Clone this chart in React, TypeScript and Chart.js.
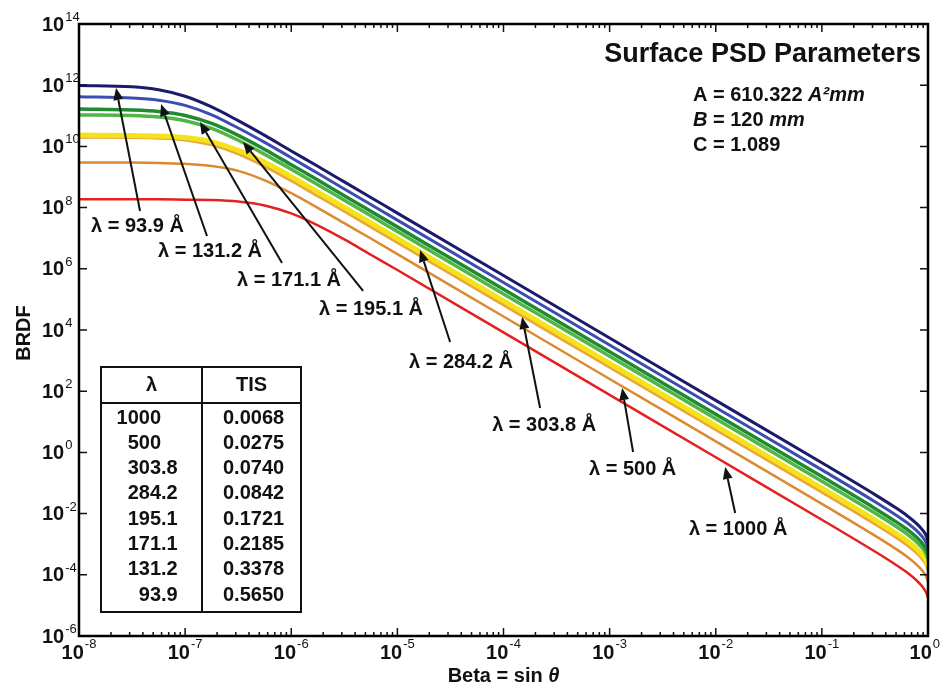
import React, { useEffect, useRef } from "react";
import { Chart, registerables } from "chart.js";

Chart.register(...registerables);

// ---- data (log10 values) ----
const betaExp = [-8, -7.5, -7.25, -7, -6.75, -6.5, -6.25, -6, -5.75, -5.5, -5.25, -5, -4, -3, -2, -1, -0.5, -0.3, -0.2, -0.1, -0.05, -0.02, 0];

const lambdaNames = ["93.9", "131.2", "171.1", "195.1", "284.2", "303.8", "500", "1000"];

const brdfExp939 = [11.99, 11.95, 11.85, 11.64, 11.29, 10.84, 10.36, 9.85, 9.35, 8.84, 8.33, 7.82, 5.78, 3.74, 1.7, -0.34, -1.38, -1.82, -2.06, -2.35, -2.54, -2.7, -2.88];
const brdfExp1312 = [11.62, 11.58, 11.51, 11.34, 11.03, 10.6, 10.13, 9.63, 9.12, 8.61, 8.1, 7.59, 5.55, 3.51, 1.47, -0.57, -1.61, -2.05, -2.29, -2.58, -2.77, -2.93, -3.11];
const brdfExp1711 = [11.22, 11.19, 11.14, 11.01, 10.75, 10.36, 9.9, 9.4, 8.9, 8.39, 7.88, 7.37, 5.33, 3.29, 1.25, -0.79, -1.83, -2.27, -2.51, -2.8, -2.99, -3.15, -3.33];
const brdfExp1951 = [11.03, 11.01, 10.96, 10.84, 10.59, 10.2, 9.74, 9.25, 8.75, 8.24, 7.73, 7.22, 5.18, 3.14, 1.1, -0.94, -1.98, -2.42, -2.66, -2.95, -3.14, -3.3, -3.48];
const brdfExp2842 = [10.37, 10.36, 10.34, 10.29, 10.15, 9.87, 9.48, 9.01, 8.51, 8.01, 7.5, 6.99, 4.95, 2.91, 0.87, -1.17, -2.21, -2.65, -2.89, -3.18, -3.37, -3.53, -3.71];
const brdfExp3038 = [10.3, 10.29, 10.27, 10.21, 10.05, 9.76, 9.35, 8.88, 8.38, 7.88, 7.37, 6.86, 4.82, 2.78, 0.74, -1.3, -2.34, -2.78, -3.02, -3.31, -3.5, -3.66, -3.84];
const brdfExp500 = [9.47, 9.47, 9.46, 9.43, 9.36, 9.2, 8.89, 8.47, 7.99, 7.49, 6.99, 6.48, 4.44, 2.4, 0.36, -1.68, -2.72, -3.16, -3.4, -3.69, -3.88, -4.04, -4.22];
const brdfExp1000 = [8.27, 8.27, 8.27, 8.26, 8.25, 8.2, 8.07, 7.81, 7.42, 6.96, 6.46, 5.96, 3.92, 1.88, -0.16, -2.2, -3.24, -3.68, -3.92, -4.21, -4.4, -4.56, -4.74];

const seriesExps = [brdfExp939, brdfExp1312, brdfExp1711, brdfExp1951, brdfExp2842, brdfExp3038, brdfExp500, brdfExp1000];
const seriesColors = ["#1c1a6a", "#3b4db3", "#1f8a30", "#52b646", "#f5e31a", "#e9a63a", "#dc8a30", "#e42121"];
const seriesWidths = [3, 3, 3.5, 3.5, 5, 3, 2.5, 2.5];

const xTickExps = [-8, -7, -6, -5, -4, -3, -2, -1, 0];
const yTickExps = [-6, -4, -2, 0, 2, 4, 6, 8, 10, 12, 14];

// annotations: label, arrow tip, arrow tail, text centre (log10 beta, log10 BRDF)
const annotLabels = ["λ = 93.9 Å", "λ = 131.2 Å", "λ = 171.1 Å", "λ = 195.1 Å", "λ = 284.2 Å", "λ = 303.8 Å", "λ = 500 Å", "λ = 1000 Å"];
const annotTip = [[-7.651, 11.908], [-7.227, 11.386], [-6.86, 10.8], [-6.454, 10.144], [-4.786, 6.614], [-3.825, 4.425], [-2.882, 2.105], [-1.911, -0.477]];
const annotTail = [[-7.425, 7.889], [-6.794, 7.072], [-6.087, 6.19], [-5.323, 5.275], [-4.503, 3.608], [-3.655, 1.451], [-2.779, 0.013], [-1.817, -1.98]];
const annotText = [[-7.449, 7.399], [-6.765, 6.582], [-6.021, 5.634], [-5.248, 4.686], [-4.4, 2.954], [-3.617, 0.895], [-2.783, -0.542], [-1.789, -2.503]];

const tableLambda = ["1000", "500", "303.8", "284.2", "195.1", "171.1", "131.2", "93.9"];
const tableTIS = ["0.0068", "0.0275", "0.0740", "0.0842", "0.1721", "0.2185", "0.3378", "0.5650"];

const FONT = '"Liberation Sans", Arial, Helvetica, sans-serif';

function drawRuns(ctx: CanvasRenderingContext2D, x: number, y: number, runs: [string, boolean][], size: number) {
  let cx = x;
  for (const [t, it] of runs) {
    ctx.font = `${it ? "italic " : ""}bold ${size}px ${FONT}`;
    ctx.fillText(t, cx, y);
    cx += ctx.measureText(t).width;
  }
}

const overlay = {
  id: "overlay",
  beforeDraw(chart: any) {
    const { ctx, width, height } = chart;
    ctx.save();
    ctx.fillStyle = "#ffffff";
    ctx.fillRect(0, 0, width, height);
    ctx.restore();
  },
  afterDraw(chart: any) {
    const { ctx, chartArea: ca, scales, width } = chart;
    const xs = scales.x;
    const ys = scales.y;
    const px = (e: number) => xs.getPixelForValue(Math.pow(10, e));
    const py = (e: number) => ys.getPixelForValue(Math.pow(10, e));
    ctx.save();

    // ticks
    ctx.strokeStyle = "#111";
    ctx.lineWidth = 1.5;
    ctx.beginPath();
    for (const d of xTickExps) {
      const x = px(d);
      ctx.moveTo(x, ca.bottom); ctx.lineTo(x, ca.bottom - 8);
      ctx.moveTo(x, ca.top); ctx.lineTo(x, ca.top + 8);
      if (d < 0) {
        for (let m = 2; m <= 9; m++) {
          const xm = xs.getPixelForValue(m * Math.pow(10, d));
          ctx.moveTo(xm, ca.bottom); ctx.lineTo(xm, ca.bottom - 4);
          ctx.moveTo(xm, ca.top); ctx.lineTo(xm, ca.top + 4);
        }
      }
    }
    for (const e of yTickExps) {
      const y = py(e);
      ctx.moveTo(ca.left, y); ctx.lineTo(ca.left + 8, y);
      ctx.moveTo(ca.right, y); ctx.lineTo(ca.right - 8, y);
    }
    ctx.stroke();

    // frame
    ctx.lineWidth = 2.5;
    ctx.strokeStyle = "#000";
    ctx.strokeRect(ca.left, ca.top, ca.right - ca.left, ca.bottom - ca.top);

    ctx.fillStyle = "#111";
    // y tick labels
    for (const e of yTickExps) {
      const y = py(e);
      ctx.font = `bold 20px ${FONT}`;
      ctx.textAlign = "left";
      ctx.textBaseline = "middle";
      ctx.fillText("10", 42, y + 1);
      const w = ctx.measureText("10").width;
      ctx.font = `13px ${FONT}`;
      ctx.textBaseline = "alphabetic";
      ctx.fillText(String(e), 42 + w + 1, y - 3);
    }
    // x tick labels
    for (const d of xTickExps) {
      const x = px(d);
      ctx.font = `bold 20px ${FONT}`;
      const w1 = ctx.measureText("10").width;
      ctx.font = `13px ${FONT}`;
      const w2 = ctx.measureText(String(d)).width;
      let sx = x - (w1 + 1 + w2) / 2;
      if (sx + w1 + 1 + w2 > width - 2) sx = width - 2 - (w1 + 1 + w2);
      ctx.font = `bold 20px ${FONT}`;
      ctx.textAlign = "left";
      ctx.textBaseline = "middle";
      ctx.fillText("10", sx, 653);
      ctx.font = `13px ${FONT}`;
      ctx.textBaseline = "alphabetic";
      ctx.fillText(String(d), sx + w1 + 1, 648);
    }

    // axis titles
    ctx.textBaseline = "middle";
    ctx.textAlign = "left";
    {
      ctx.font = `bold 20px ${FONT}`;
      const a = "Beta = sin ";
      const wa = ctx.measureText(a).width;
      ctx.font = `italic bold 20px ${FONT}`;
      const wb = ctx.measureText("θ").width;
      const sx = (ca.left + ca.right) / 2 - (wa + wb) / 2;
      ctx.font = `bold 20px ${FONT}`;
      ctx.fillText(a, sx, 676);
      ctx.font = `italic bold 20px ${FONT}`;
      ctx.fillText("θ", sx + wa, 676);
    }
    ctx.save();
    ctx.translate(24, 333);
    ctx.rotate(-Math.PI / 2);
    ctx.font = `bold 20px ${FONT}`;
    ctx.textAlign = "center";
    ctx.fillText("BRDF", 0, 0);
    ctx.restore();

    // title & parameters
    ctx.textAlign = "right";
    ctx.textBaseline = "alphabetic";
    ctx.font = `bold 27px ${FONT}`;
    ctx.fillText("Surface PSD Parameters", 921, 62);
    ctx.textAlign = "left";
    ctx.textBaseline = "middle";
    drawRuns(ctx, 693, 95, [["A = 610.322 ", false], ["A²mm", true]], 20);
    drawRuns(ctx, 693, 120, [["B", true], [" = 120 ", false], ["mm", true]], 20);
    drawRuns(ctx, 693, 145, [["C = 1.089", false]], 20);

    // annotations with arrows
    ctx.strokeStyle = "#111";
    ctx.fillStyle = "#111";
    for (let i = 0; i < annotLabels.length; i++) {
      const tx = px(annotTip[i][0]), ty = py(annotTip[i][1]);
      const sx = px(annotTail[i][0]), sy = py(annotTail[i][1]);
      const ang = Math.atan2(ty - sy, tx - sx);
      const hl = 12, hw = 5;
      const bx = tx - hl * Math.cos(ang), by = ty - hl * Math.sin(ang);
      ctx.lineWidth = 2;
      ctx.beginPath();
      ctx.moveTo(sx, sy);
      ctx.lineTo(bx, by);
      ctx.stroke();
      ctx.beginPath();
      ctx.moveTo(tx, ty);
      ctx.lineTo(bx + hw * Math.sin(ang), by - hw * Math.cos(ang));
      ctx.lineTo(bx - hw * Math.sin(ang), by + hw * Math.cos(ang));
      ctx.closePath();
      ctx.fill();
      ctx.font = `bold 20px ${FONT}`;
      ctx.textAlign = "center";
      ctx.textBaseline = "middle";
      ctx.fillText(annotLabels[i], px(annotText[i][0]), py(annotText[i][1]));
    }

    // TIS table
    const tl = ca.left + 22, tr = ca.left + 222, tt = 367, tb = 612, th = 403, tc = ca.left + 123;
    ctx.fillStyle = "#ffffff";
    ctx.fillRect(tl, tt, tr - tl, tb - tt);
    ctx.strokeStyle = "#111";
    ctx.lineWidth = 2;
    ctx.strokeRect(tl, tt, tr - tl, tb - tt);
    ctx.beginPath();
    ctx.moveTo(tl, th); ctx.lineTo(tr, th);
    ctx.moveTo(tc, tt); ctx.lineTo(tc, tb);
    ctx.stroke();
    ctx.fillStyle = "#111";
    ctx.font = `bold 20px ${FONT}`;
    ctx.textBaseline = "middle";
    ctx.textAlign = "center";
    ctx.fillText("λ", (tl + tc) / 2, 385);
    ctx.fillText("TIS", (tc + tr) / 2, 385);
    const dotX = tl + 60;
    for (let i = 0; i < tableLambda.length; i++) {
      const y = 418 + i * 25.3;
      const parts = tableLambda[i].split(".");
      ctx.textAlign = "right";
      ctx.fillText(parts[0], dotX, y);
      if (parts.length > 1) {
        ctx.textAlign = "left";
        ctx.fillText("." + parts[1], dotX, y);
      }
      ctx.textAlign = "left";
      ctx.fillText(tableTIS[i], tc + 21, y);
    }
    ctx.restore();
  },
};

export default function App() {
  const ref = useRef<HTMLCanvasElement | null>(null);
  useEffect(() => {
    if (!ref.current) return;
    const datasets = seriesExps.map((arr, i) => ({
      label: `λ = ${lambdaNames[i]} Å`,
      data: arr.map((v, j) => ({ x: Math.pow(10, betaExp[j]), y: Math.pow(10, v) })),
      borderColor: seriesColors[i],
      backgroundColor: seriesColors[i],
      borderWidth: seriesWidths[i],
      pointRadius: 0,
      fill: false,
      cubicInterpolationMode: "monotone" as const,
    }));
    const chart = new Chart(ref.current, {
      type: "line",
      data: { datasets },
      options: {
        animation: false,
        responsive: false,
        maintainAspectRatio: false,
        layout: { padding: { left: 79, top: 24, right: 14, bottom: 50 } },
        plugins: { legend: { display: false }, tooltip: { enabled: false } },
        scales: {
          x: { type: "logarithmic", min: 1e-8, max: 1, display: false },
          y: { type: "logarithmic", min: 1e-6, max: 1e14, display: false },
        },
      },
      plugins: [overlay],
    } as any);
    return () => chart.destroy();
  }, []);
  return (
    <div style={{ position: "absolute", left: 0, top: 0, width: 942, height: 686, background: "#fff" }}>
      <canvas ref={ref} width={942} height={686} style={{ display: "block" }} />
    </div>
  );
}
